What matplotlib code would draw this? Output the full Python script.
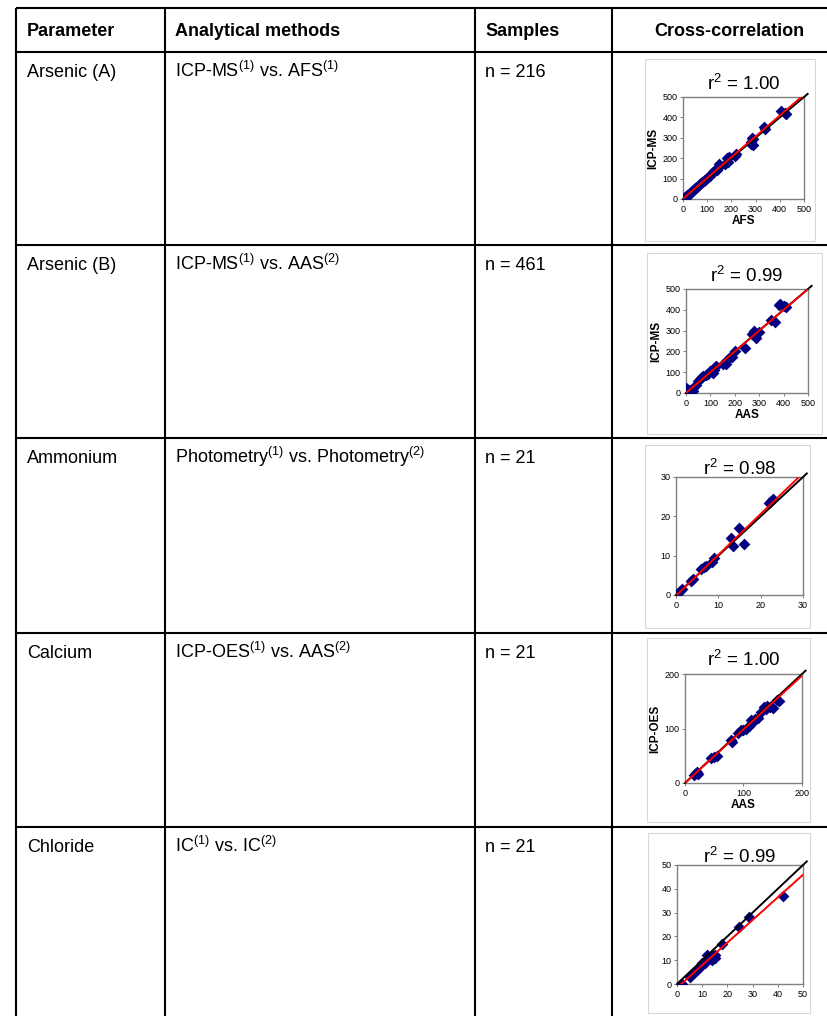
import numpy as np
import matplotlib
matplotlib.use("Agg")
import matplotlib.pyplot as plt
from matplotlib.patches import Rectangle

plt.rcParams["font.family"] = ["Liberation Sans", "DejaVu Sans"]
plt.rcParams["mathtext.fontset"] = "custom"
plt.rcParams["mathtext.rm"] = "Liberation Sans"
plt.rcParams["mathtext.it"] = "Liberation Sans:italic"
plt.rcParams["mathtext.bf"] = "Liberation Sans:bold"

W, H = 828, 1016

# ---- table content ----
headers = ["Parameter", "Analytical methods", "Samples", "Cross-correlation"]
parameters = ["Arsenic (A)", "Arsenic (B)", "Ammonium", "Calcium", "Chloride"]
methods = [r"ICP-MS$^{(1)}$ vs. AFS$^{(1)}$",
           r"ICP-MS$^{(1)}$ vs. AAS$^{(2)}$",
           r"Photometry$^{(1)}$ vs. Photometry$^{(2)}$",
           r"ICP-OES$^{(1)}$ vs. AAS$^{(2)}$",
           r"IC$^{(1)}$ vs. IC$^{(2)}$"]
samples = ["n = 216", "n = 461", "n = 21", "n = 21", "n = 21"]
r2_labels = ["1.00", "0.99", "0.98", "1.00", "0.99"]
x_labels = ["AFS", "AAS", "", "AAS", ""]
y_labels = ["ICP-MS", "ICP-MS", "", "ICP-OES", ""]
axis_max = [500, 500, 30, 200, 50]
tick_step = [100, 100, 10, 100, 10]

# ---- scatter data ----
as_a_x = [2, 5, 8, 10, 15, 18, 20, 25, 30, 35, 40, 45, 50, 55, 60, 65, 70, 75, 80, 85,
          90, 95, 100, 110, 120, 125, 130, 140, 145, 150, 150, 175, 180, 185, 190,
          215, 220, 280, 285, 290, 290, 280, 335, 340, 405, 420, 425]
as_a_y = [2, 5, 6, 12, 14, 18, 20, 22, 30, 33, 42, 45, 52, 55, 62, 70, 75, 78, 85, 90,
          95, 100, 105, 115, 125, 130, 135, 140, 150, 170, 160, 170, 200, 180, 205,
          210, 220, 280, 300, 295, 265, 270, 355, 345, 430, 420, 415]
as_a_fit = (1.02, 1.0)

as_b_x = [0, 3, 5, 0, 10, 20, 30, 15, 25, 40, 50, 60, 65, 70, 80, 90, 100, 110, 115,
          120, 125, 150, 165, 170, 180, 190, 200, 240, 270, 280, 285, 300, 350, 365,
          380, 385, 400, 410]
as_b_y = [25, 20, 5, 10, 0, 0, 10, 15, 20, 40, 60, 70, 75, 80, 85, 90, 105, 95, 110,
          125, 130, 140, 140, 160, 175, 175, 200, 215, 285, 300, 265, 295, 350, 340,
          425, 430, 420, 415]
as_b_fit = (1.0, 0.0)

nh4_x = [0, 0.3, 1, 1.5, 3.5, 4, 6, 6.5, 7, 8.5, 9, 13, 13.5, 15, 16, 22, 22.5, 23]
nh4_y = [0, 0.2, 1, 1.5, 3.5, 4, 6.5, 7, 7.5, 8.5, 9.5, 14.5, 12.5, 17, 13, 23.5, 24, 24.5]
nh4_fit = (1.04, -0.2)

ca_x = [15, 18, 20, 22, 45, 50, 55, 78, 80, 90, 95, 100, 105, 110, 112, 115, 120, 125,
        130, 135, 138, 140, 145, 150, 158, 160]
ca_y = [15, 18, 20, 17, 45, 48, 50, 78, 75, 92, 97, 98, 100, 105, 115, 110, 118, 120,
        130, 140, 135, 142, 140, 138, 152, 150]
ca_fit = (0.985, 0.0)

cl_x = [2, 5, 6, 7, 8, 9, 10, 10, 11, 12, 12, 13, 14, 14, 15, 15, 18, 24.5, 28.5, 42]
cl_y = [0, 3, 4, 5, 6, 7, 8, 9, 9, 10, 12, 11, 12, 10, 11, 12, 17, 24, 28, 37]
cl_fit = (0.95, -1.6)

scatter_x = [as_a_x, as_b_x, nh4_x, ca_x, cl_x]
scatter_y = [as_a_y, as_b_y, nh4_y, ca_y, cl_y]
fits = [as_a_fit, as_b_fit, nh4_fit, ca_fit, cl_fit]

# ---- layout in pixels ----
row_lines = [8, 52, 245, 438, 633, 827]
col_lines = [16, 165, 475, 612]
text_x = [27, 175, 485]
inset_boxes = [(645, 59, 815, 241), (647, 253, 822, 434), (645, 445, 810, 628),
               (647, 638, 810, 822), (648, 833, 810, 1013)]
inset_axes = [(683, 97, 804, 199), (686, 289, 808, 393), (676, 477, 803, 595),
              (685, 674, 802, 783), (677, 865, 803, 984)]

fig = plt.figure(figsize=(W / 100, H / 100), dpi=100)
bg = fig.add_axes([0, 0, 1, 1])
bg.set_xlim(0, W)
bg.set_ylim(H, 0)
bg.axis("off")

for y in row_lines:
    bg.plot([col_lines[0], W], [y, y], color="black", lw=1.5, solid_capstyle="butt")
for x in col_lines:
    bg.plot([x, x], [row_lines[0], H], color="black", lw=1.5, solid_capstyle="butt")

FS = 13
hdr_y = 36
for i, h in enumerate(headers[:3]):
    bg.text(text_x[i], hdr_y, h, fontsize=FS, fontweight="bold", va="baseline")
bg.text(729, hdr_y, headers[3], fontsize=FS, fontweight="bold", va="baseline", ha="center")

for r in range(5):
    base = row_lines[r + 1] + 25
    bg.text(text_x[0], base, parameters[r], fontsize=FS, va="baseline")
    bg.text(text_x[1], base, methods[r], fontsize=FS, va="baseline")
    bg.text(text_x[2], base, samples[r], fontsize=FS, va="baseline")

for r in range(5):
    x0, y0, x1, y1 = inset_boxes[r]
    bg.add_patch(Rectangle((x0, y0), x1 - x0, y1 - y0, fill=False,
                           edgecolor="#d9d9d9", lw=0.8))
    l, t, rr, b = inset_axes[r]
    ax = fig.add_axes([l / W, 1 - b / H, (rr - l) / W, (b - t) / H])
    m = axis_max[r]
    ax.set_xlim(0, m)
    ax.set_ylim(0, m)
    ticks = np.arange(0, m + 1, tick_step[r])
    ax.set_xticks(ticks)
    ax.set_yticks(ticks)
    ax.tick_params(labelsize=6.5, length=2.5, width=0.7, color="#808080", pad=1.5)
    for s in ax.spines.values():
        s.set_color("#808080")
        s.set_linewidth(1.0)
    ax.scatter(scatter_x[r], scatter_y[r], marker="D", s=36, color="#000080",
               zorder=3, linewidths=0)
    ext = m * 1.03
    ax.plot([0, ext], [0, ext], color="black", lw=1.4, clip_on=False, zorder=4)
    k, c = fits[r]
    xs = np.array([max(0.0, -c / k), m])
    ax.plot(xs, k * xs + c, color="red", lw=1.4, zorder=5)
    if x_labels[r]:
        ax.set_xlabel(x_labels[r], fontsize=8.5, fontweight="bold", labelpad=1)
        ax.set_ylabel(y_labels[r], fontsize=8.5, fontweight="bold", labelpad=2)
    ax.text(0.5, 1.02 if r in (2, 4) else 1.07, r"r$^2$ = " + r2_labels[r],
            transform=ax.transAxes, ha="center", va="baseline", fontsize=13.5)

fig.savefig("out.png", dpi=100)
